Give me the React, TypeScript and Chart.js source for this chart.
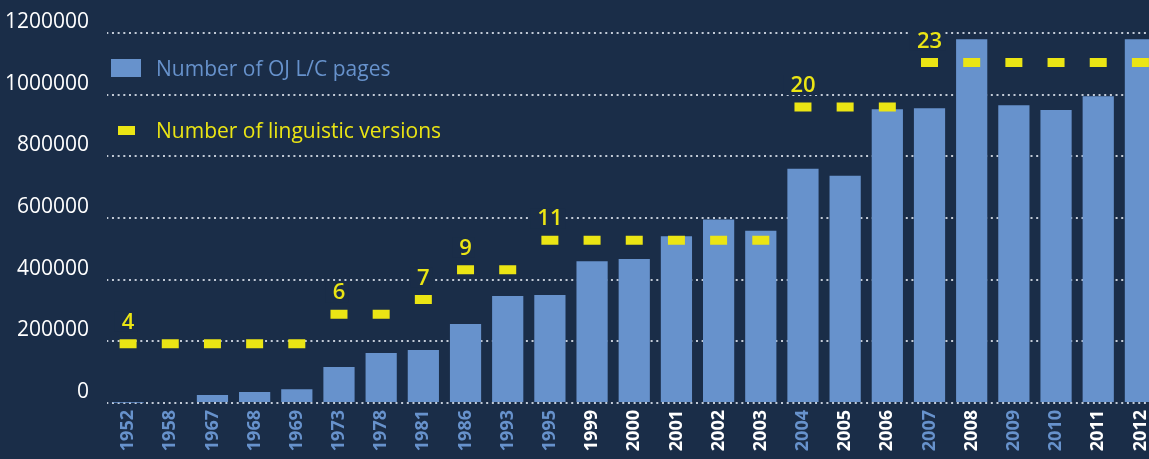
import React, { useEffect, useRef } from "react";
import { Chart, registerables } from "chart.js";

Chart.register(...registerables);

// ---- data ----
const years = [
  "1952", "1958", "1967", "1968", "1969", "1973", "1978", "1981", "1986",
  "1993", "1995", "1999", "2000", "2001", "2002", "2003", "2004", "2005",
  "2006", "2007", "2008", "2009", "2010", "2011", "2012",
];
const pages = [
  1000, 3000, 26000, 36000, 45000, 117000, 162000, 172000, 256000,
  347000, 350000, 460000, 467000, 541000, 595000, 559000, 760000, 737000,
  953000, 956000, 1180000, 966000, 950000, 995000, 1180000,
];
const versions = [
  4, 4, 4, 4, 4, 6, 6, 7, 9,
  9, 11, 11, 11, 11, 11, 11, 20, 20,
  20, 23, 23, 23, 23, 23, 23,
];
const whiteLabelYears = ["1999", "2000", "2001", "2002", "2003", "2005", "2006", "2008", "2011", "2012"];
const yTickValues = [0, 200000, 400000, 600000, 800000, 1000000, 1200000];
const legendPages = "Number of OJ L/C pages";
const legendVersions = "Number of linguistic versions";

// ---- style ----
const BG = "#1a2d48";
const BAR = "#6792cc";
const YELLOW = "#ebe514";
const GRID = "rgba(225,230,240,0.85)";
const FONT = '"Open Sans", "DejaVu Sans", sans-serif';

const versionLabelsPlugin = {
  id: "versionLabels",
  afterDatasetsDraw(chart: any) {
    const meta = chart.getDatasetMeta(0);
    const ctx = chart.ctx;
    ctx.save();
    ctx.font = `600 22px ${FONT}`;
    ctx.textAlign = "center";
    ctx.textBaseline = "middle";
    versions.forEach((v, i) => {
      if (i > 0 && versions[i - 1] === v) return;
      const pt = meta.data[i];
      const text = String(v);
      const w = ctx.measureText(text).width;
      const x = pt.x;
      const y = pt.y - 22;
      ctx.fillStyle = BG;
      ctx.fillRect(x - w / 2 - 7, y - 10, w + 10, 20);
      ctx.fillStyle = YELLOW;
      ctx.fillText(text, x, y + 1);
    });
    ctx.restore();
  },
};

const legendPlugin = {
  id: "customLegend",
  afterDraw(chart: any) {
    const ctx = chart.ctx;
    ctx.save();
    ctx.fillStyle = BAR;
    ctx.fillRect(111, 59, 30, 18);
    ctx.font = `21px ${FONT}`;
    ctx.textAlign = "left";
    ctx.textBaseline = "alphabetic";
    ctx.fillText(legendPages, 156, 76);
    ctx.fillStyle = YELLOW;
    ctx.fillRect(118, 126, 17, 9);
    ctx.fillText(legendVersions, 156, 137.5);
    ctx.restore();
  },
};

export default function App() {
  const ref = useRef<HTMLCanvasElement | null>(null);

  useEffect(() => {
    if (!ref.current) return;
    const chart = new Chart(ref.current, {
      type: "bar",
      data: {
        labels: years,
        datasets: [
          {
            type: "line",
            label: legendVersions,
            data: versions,
            yAxisID: "y2",
            showLine: false,
            pointStyle: "line",
            pointRadius: 8.5,
            pointHoverRadius: 8.5,
            pointBorderWidth: 9,
            pointHoverBorderWidth: 9,
            pointBorderColor: YELLOW,
            pointBackgroundColor: YELLOW,
            borderColor: YELLOW,
            order: 0,
          } as any,
          {
            type: "bar",
            label: legendPages,
            data: pages,
            yAxisID: "y",
            backgroundColor: BAR,
            borderWidth: 0,
            categoryPercentage: 1,
            barPercentage: 0.74,
            order: 1,
          },
        ],
      },
      options: {
        responsive: false,
        animation: false,
        events: [],
        layout: { padding: { top: 33, bottom: 0, left: 0, right: 2 } },
        plugins: {
          legend: { display: false },
          tooltip: { enabled: false },
        },
        scales: {
          x: {
            grid: { display: false, drawTicks: false },
            border: { display: false },
            ticks: {
              autoSkip: false,
              minRotation: 90,
              maxRotation: 90,
              padding: 7,
              font: { family: FONT, size: 18, weight: "bold" },
              color: (c: any) => (whiteLabelYears.includes(years[c.index]) ? "#ffffff" : BAR),
            },
            afterFit: (scale: any) => {
              scale.height = 56;
            },
          },
          y: {
            position: "left",
            min: 0,
            max: 1200000,
            afterBuildTicks: (scale: any) => {
              scale.ticks = yTickValues.map((v) => ({ value: v }));
            },
            grid: {
              color: GRID,
              lineWidth: 2,
              drawTicks: false,
            },
            border: { display: false, dash: [2, 3.67], dashOffset: 0.7 },
            ticks: {
              padding: 18,
              labelOffset: -11,
              color: "#ffffff",
              font: { family: FONT, size: 21 },
              callback: (v: any) => String(v),
            },
            afterFit: (scale: any) => {
              scale.width = 107;
            },
          },
          y2: {
            display: false,
            min: 0,
            max: 25,
          },
        },
      } as any,
      plugins: [versionLabelsPlugin, legendPlugin],
    });
    return () => chart.destroy();
  }, []);

  return (
    <div
      style={{
        position: "fixed",
        left: 0,
        top: 0,
        width: 1149,
        height: 459,
        overflow: "hidden",
        background: BG,
      }}
    >
      <canvas ref={ref} width={1179} height={459} style={{ display: "block" }} />
    </div>
  );
}
